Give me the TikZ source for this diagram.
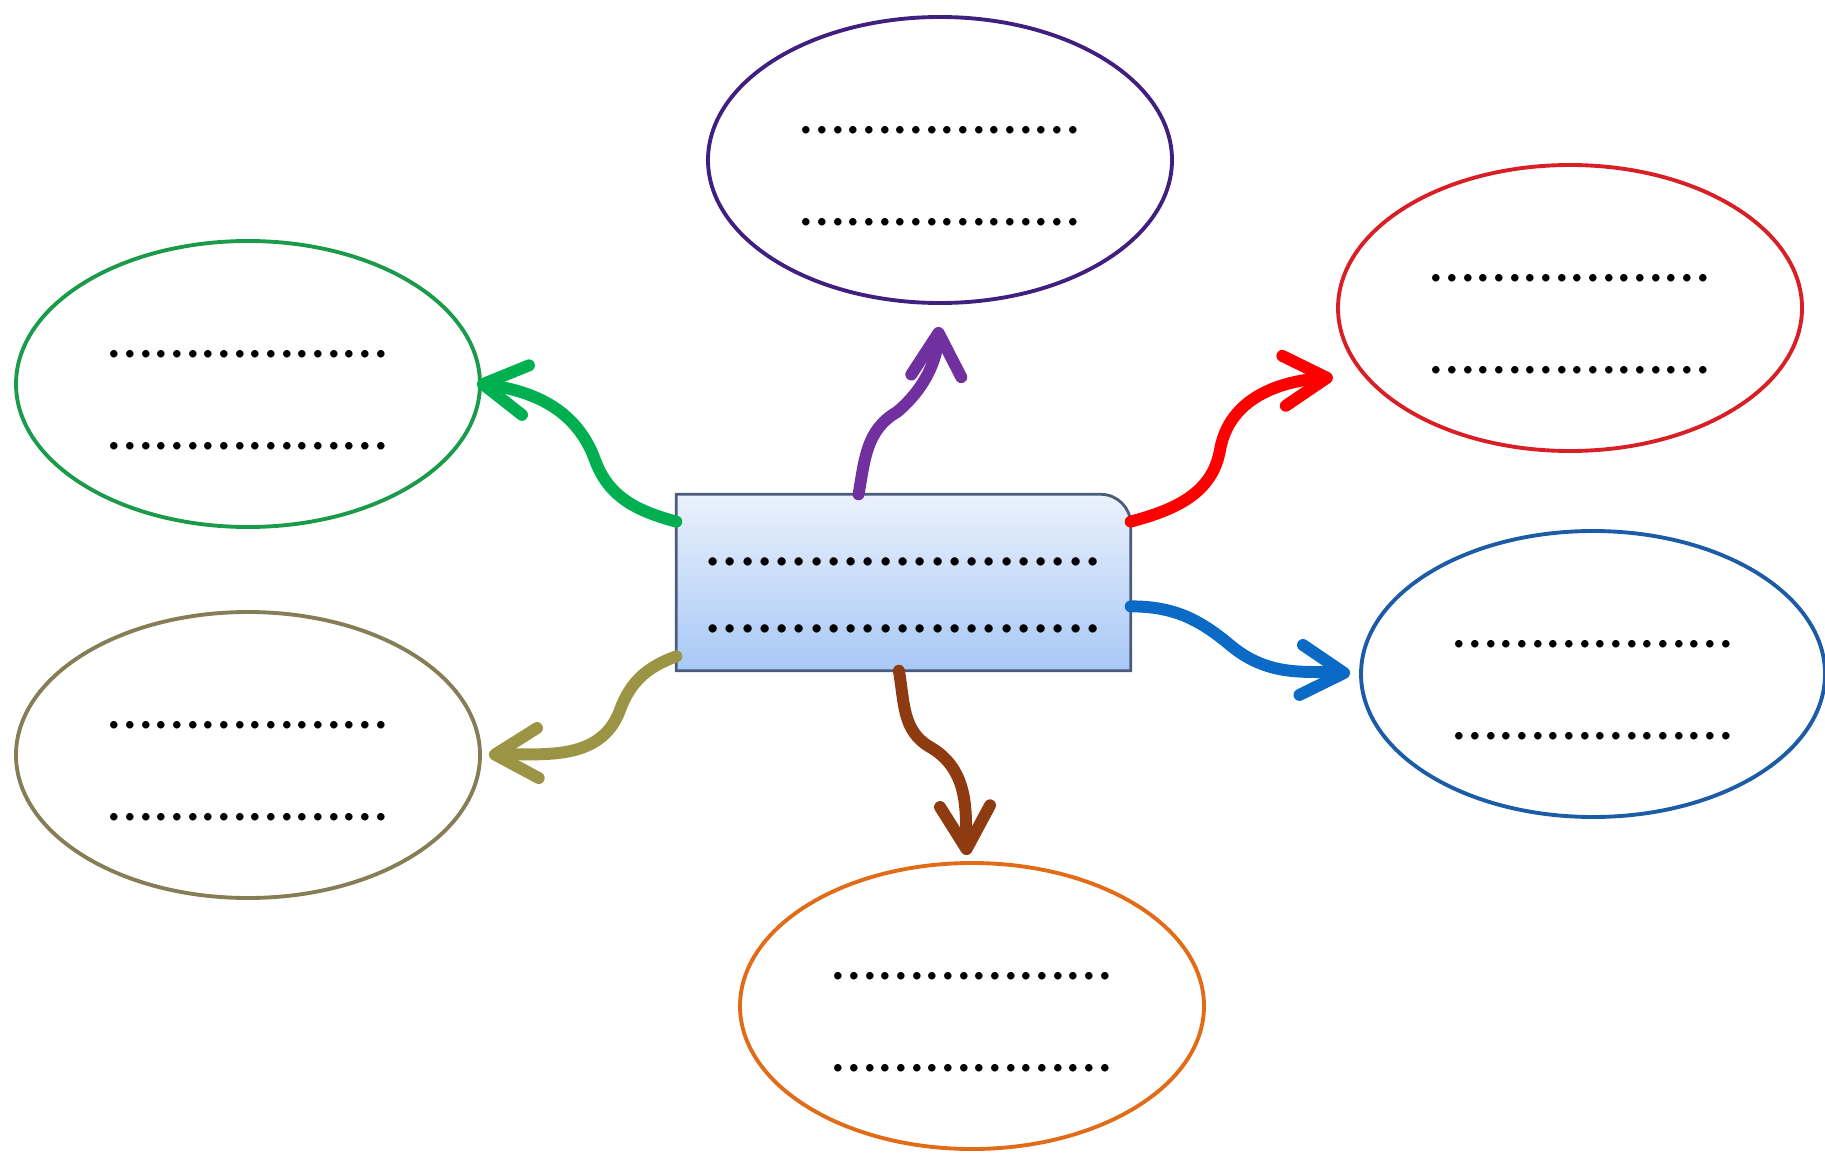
\documentclass[tikz,border=0pt]{standalone}
\usepackage{fontspec}
\setmainfont{Carlito}
\usepackage{xcolor}
\usepackage{tikz}
\usetikzlibrary{arrows.meta,shapes,backgrounds,calc}
\definecolor{grnE}{HTML}{1B9A4B}
\definecolor{grnA}{HTML}{00B050}
\definecolor{purE}{HTML}{3F1F7F}
\definecolor{purA}{HTML}{7030A0}
\definecolor{redE}{HTML}{D91F26}
\definecolor{redA}{HTML}{FF0000}
\definecolor{bluE}{HTML}{1C5BA6}
\definecolor{bluA}{HTML}{0A6AC6}
\definecolor{olvE}{HTML}{857D55}
\definecolor{olvA}{HTML}{9C9445}
\definecolor{orgE}{HTML}{E26B17}
\definecolor{brnA}{HTML}{8E3B12}
\definecolor{hubT}{HTML}{EAF1FC}
\definecolor{hubB}{HTML}{A8C8F6}
\definecolor{hubD}{HTML}{4B5C7A}
\newcommand{\dotrow}{..................}
\newcommand{\hubrow}{.......................}
\tikzstyle{bubble}=[ellipse, draw, line width=1.1pt,% outer ovals
minimum width=4.64cm, minimum height=2.86cm, inner sep=0pt, align=center,
font=\fontsize{17.7}{26.2}\selectfont]
\tikzstyle{hub}=[inner sep=0pt, minimum width=4.53cm, minimum height=1.75cm,
align=center, font=\fontsize{19.5}{19}\selectfont]
\tikzstyle{hubfill}=[draw=hubD, line width=0.8pt, top color=hubT, bottom color=hubB]
\tikzstyle{branch}=[line width=3.4pt, line cap=round,
-{Straight Barb[round,length=4.3mm,width=5mm]}]

\begin{document}
\begin{tikzpicture}
\useasboundingbox (0,0) rectangle (18.25,-11.52);
\node[bubble,draw=grnE] (grn) at (2.48,-3.84) {\rule{0pt}{11pt}\dotrow\\\dotrow};
\node[bubble,draw=purE] (pur) at (9.40,-1.60) {\rule{0pt}{11pt}\dotrow\\\dotrow};
\node[bubble,draw=redE] (red) at (15.70,-3.08) {\rule{0pt}{11pt}\dotrow\\\dotrow};
\node[bubble,draw=bluE] (blu) at (15.93,-6.74) {\rule{0pt}{11pt}\dotrow\\\dotrow};
\node[bubble,draw=olvE] (olv) at (2.48,-7.55) {\rule{0pt}{11pt}\dotrow\\\dotrow};
\node[bubble,draw=orgE] (org) at (9.72,-10.06) {\rule{0pt}{11pt}\dotrow\\\dotrow};
\node[hub] (ctr) at (9.035,-5.825) {\rule{0pt}{9.6pt}\hubrow\\\hubrow};
\begin{scope}[on background layer]
\draw[hubfill] (ctr.south west) -- (ctr.north west) -- ([xshift=-3mm]ctr.north east)
  arc[start angle=90,end angle=0,radius=3mm] -- (ctr.south east) -- cycle;
\end{scope}
% wiggles
\coordinate (gw) at (5.95,-4.60);
\coordinate (pw) at (8.97,-4.12);
\coordinate (rw) at (12.20,-4.50);
\coordinate (bw) at (12.30,-6.45);
\coordinate (ow) at (6.20,-7.10);
\coordinate (nw) at (9.30,-7.47);
\draw[branch,grnA,shorten >=-0.5mm] (ctr.165) to[out=165,in=-70] (gw) to[out=110,in=-8] (grn.east);
\draw[branch,purA,shorten >=2.2mm] (ctr.117) to[out=80,in=210] (pw) to[out=40,in=267] (pur.south);
\draw[branch,redA,shorten >=3mm] (ctr.15) to[out=15,in=-100] (rw) to[out=80,in=184] (red.198);
\draw[branch,bluA,shorten >=0.9mm] (ctr.-6) to[out=0,in=140] (bw) to[out=-40,in=176] (blu.west);
\draw[branch,olvA,shorten >=0.7mm] (ctr.198) to[out=200,in=70] (ow) to[out=250,in=2] (olv.east);
\draw[branch,brnA,shorten >=0.6mm] (ctr.267) to[out=-80,in=150] (nw) to[out=-30,in=92] (org.92);
\end{tikzpicture}
\end{document}
